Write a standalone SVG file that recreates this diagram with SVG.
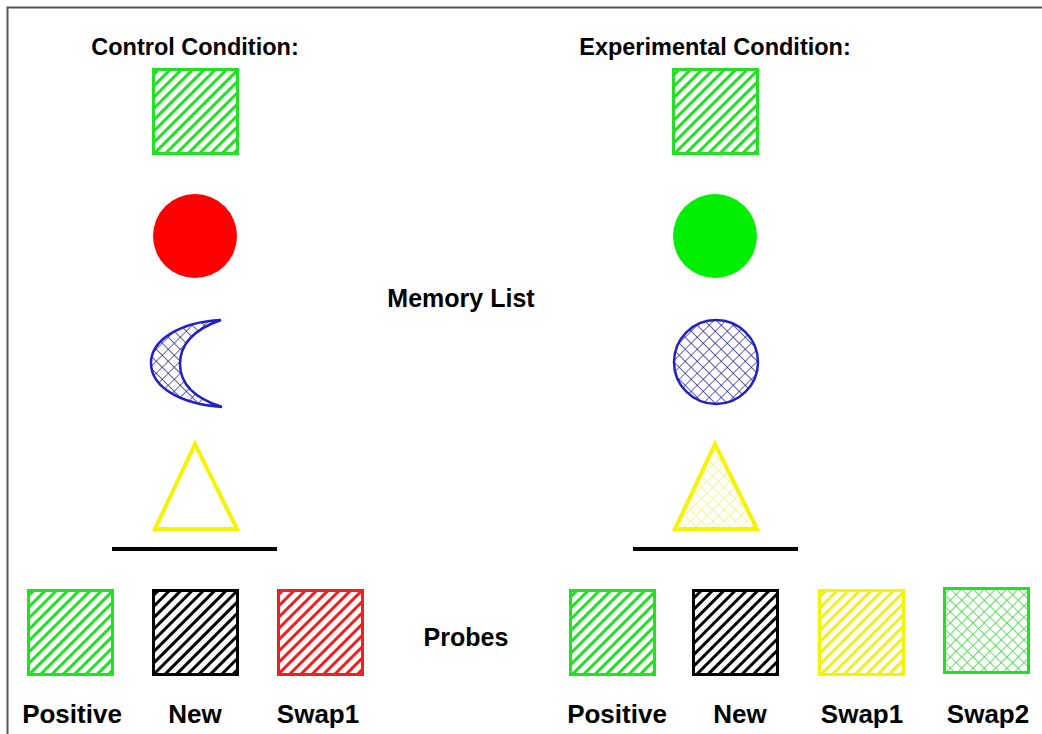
<svg xmlns="http://www.w3.org/2000/svg" width="1042" height="734" viewBox="0 0 1042 734">
<defs>
<pattern id="hG" patternUnits="userSpaceOnUse" width="8" height="8" patternTransform="rotate(45)"><rect width="8" height="8" fill="#fff"/><rect x="0" y="0" width="3" height="8" fill="#22e022"/></pattern>
<pattern id="hK" patternUnits="userSpaceOnUse" width="8" height="8" patternTransform="rotate(45)"><rect width="8" height="8" fill="#fff"/><rect x="0" y="0" width="3" height="8" fill="#000"/></pattern>
<pattern id="hR" patternUnits="userSpaceOnUse" width="8" height="8" patternTransform="rotate(45)"><rect width="8" height="8" fill="#fff"/><rect x="0" y="0" width="3" height="8" fill="#ee2020"/></pattern>
<pattern id="hY" patternUnits="userSpaceOnUse" width="8" height="8" patternTransform="rotate(45)"><rect width="8" height="8" fill="#fff"/><rect x="0" y="0" width="3" height="8" fill="#f0f020"/></pattern>
<pattern id="xB" patternUnits="userSpaceOnUse" width="8.5" height="8.5" patternTransform="rotate(45)"><rect width="8.5" height="8.5" fill="#fff"/><path d="M0,0H8.5M0,0V8.5" stroke="#2a2a8a" stroke-width="1.4"/></pattern>
<pattern id="xG" patternUnits="userSpaceOnUse" width="8" height="8" patternTransform="rotate(45)"><rect width="8" height="8" fill="#fff"/><path d="M0,0H8M0,0V8" stroke="#3ad83a" stroke-width="1.6"/></pattern>
<pattern id="xY" patternUnits="userSpaceOnUse" width="8" height="8" patternTransform="rotate(45)"><rect width="8" height="8" fill="#fff"/><path d="M0,0H8M0,0V8" stroke="#f2f07a" stroke-width="1.4"/></pattern>
</defs>
<style>
text{font-family:"Liberation Sans",Arial,sans-serif;font-weight:bold;fill:#000;text-anchor:middle}
.t{font-size:23.5px}
.m{font-size:25px}
.l{font-size:26px}
.sq{stroke-width:3}
</style>
<rect width="1042" height="734" fill="#fff"/>
<path d="M7.5,734V7.5H1042" fill="none" stroke="#555" stroke-width="2"/>
<g id="titles">
<text class="t" x="195" y="55">Control Condition:</text>
<text class="t" x="715" y="55">Experimental Condition:</text>
<text class="m" x="461" y="307">Memory List</text>
<text class="m" x="466" y="646">Probes</text>
</g>
<g id="control-memory">
<rect x="153.5" y="69.5" width="84" height="84" fill="url(#hG)" stroke="#22e022" class="sq"/>
<circle cx="195" cy="236" r="42" fill="#ff0000"/>
<path d="M221,320 C180,322 151,340 151,363 C151,387 180,404 222,407 C200,400 180,388 180,364 C180,342 198,328 221,320 Z" fill="url(#xB)" stroke="#2020c8" stroke-width="2.5" stroke-linejoin="miter"/>
<polygon points="195,444 155,529 237,529" fill="#fff" stroke="#f4f400" stroke-width="4"/>
<line x1="112" y1="549" x2="277" y2="549" stroke="#000" stroke-width="4"/>
</g>
<g id="experimental-memory">
<rect x="673.5" y="69.5" width="84" height="84" fill="url(#hG)" stroke="#22e022" class="sq"/>
<circle cx="715" cy="236" r="42" fill="#00ee00"/>
<circle cx="716" cy="362" r="42" fill="url(#xB)" stroke="#2020c8" stroke-width="2.5"/>
<polygon points="715,444 675,529 757,529" fill="url(#xY)" stroke="#f4f400" stroke-width="4"/>
<line x1="633" y1="549" x2="798" y2="549" stroke="#000" stroke-width="4"/>
</g>
<g id="control-probes">
<rect x="28.5" y="590.5" width="84" height="84" fill="url(#hG)" stroke="#22e022" class="sq"/>
<rect x="153.5" y="590.5" width="84" height="84" fill="url(#hK)" stroke="#000" class="sq"/>
<rect x="278.5" y="590.5" width="84" height="84" fill="url(#hR)" stroke="#ee2020" class="sq"/>
<text class="l" x="72" y="723">Positive</text>
<text class="l" x="195" y="723">New</text>
<text class="l" x="318" y="723">Swap1</text>
</g>
<g id="experimental-probes">
<rect x="570.5" y="590.5" width="84" height="84" fill="url(#hG)" stroke="#22e022" class="sq"/>
<rect x="693.5" y="590.5" width="84" height="84" fill="url(#hK)" stroke="#000" class="sq"/>
<rect x="819.5" y="590.5" width="84" height="84" fill="url(#hY)" stroke="#f4f400" class="sq"/>
<rect x="944.5" y="588.5" width="84" height="84" fill="url(#xG)" stroke="#22e022" class="sq"/>
<text class="l" x="617" y="723">Positive</text>
<text class="l" x="740" y="723">New</text>
<text class="l" x="862" y="723">Swap1</text>
<text class="l" x="988" y="723">Swap2</text>
</g>
<g id="connectors"/>
</svg>
